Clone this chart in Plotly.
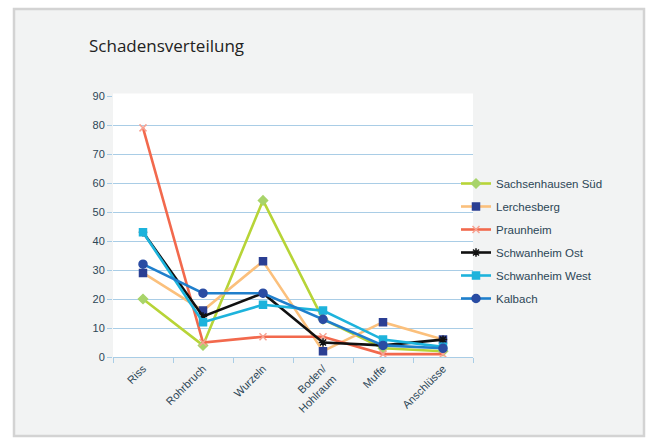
import plotly.graph_objects as go

categories = ["Riss", "Rohrbruch", "Wurzeln", "Boden/<br>Hohlraum", "Muffe", "Anschlüsse"]
sachsenhausen_sued = [20, 4, 54, 13, 3, 2]
lerchesberg = [29, 16, 33, 2, 12, 6]
praunheim = [79, 5, 7, 7, 1, 1]
schwanheim_ost = [43, 14, 22, 5, 4, 6]
schwanheim_west = [43, 12, 18, 16, 6, 3.5]
kalbach = [32, 22, 22, 13, 4, 3]
y_ticks = [0, 10, 20, 30, 40, 50, 60, 70, 80, 90]

series = [
    ("Sachsenhausen Süd", sachsenhausen_sued, "#b7d437", "#a8d46a", "diamond", 7),
    ("Lerchesberg", lerchesberg, "#fbc07c", "#2b3f93", "square", 7),
    ("Praunheim", praunheim, "#f2694d", "#f7a292", "x-thin", 7),
    ("Schwanheim Ost", schwanheim_ost, "#111111", "#111111", "asterisk", 7),
    ("Schwanheim West", schwanheim_west, "#1db3dc", "#1db3dc", "square", 7),
    ("Kalbach", kalbach, "#1f7fcc", "#2a4ca3", "circle", 8),
]

fig = go.Figure()
for i, (name, vals, lc, mc, sym, ms) in enumerate(series):
    fig.add_trace(go.Scatter(
        x=categories, y=vals, name=name, mode="lines+markers",
        line=dict(color=lc, width=2.6),
        marker=dict(color=mc, symbol=sym, size=ms,
                    line=dict(color=mc, width=1.5)),
        legendgroup=f"g{i}",
    ))

L, R, T, B = 113, 473, 96, 357
W, H = 651, 438

def px(x):
    return (x - L) / (R - L)

def py(y):
    return (B - y) / (B - T)

fig.update_layout(
    width=W, height=H,
    margin=dict(l=L, r=W - R, t=T, b=H - B),
    paper_bgcolor="white",
    plot_bgcolor="white",
    font=dict(family="Liberation Sans, Arial, sans-serif", size=11, color="#2c4656"),
    showlegend=True,
    legend=dict(x=px(456), y=py(169), xanchor="left", yanchor="top",
                bgcolor="rgba(0,0,0,0)", font=dict(size=11.5, color="#2c4656"),
                tracegroupgap=4, itemwidth=30),
    shapes=[
        dict(type="rect", xref="paper", yref="paper", layer="below",
             x0=px(14), x1=px(644), y0=py(436), y1=py(9),
             fillcolor="#f2f3f3", line=dict(color="#d3d3d3", width=2.5)),
        dict(type="rect", xref="paper", yref="paper", layer="below",
             x0=0, x1=1, y0=0, y1=1.01,
             fillcolor="white", line=dict(width=0)),
    ],
    annotations=[
        dict(text="Schadensverteilung", xref="paper", yref="paper",
             x=px(87), y=py(46), xanchor="left", yanchor="middle",
             showarrow=False,
             font=dict(family="Open Sans, sans-serif", size=17, color="#222222")),
    ],
)

fig.update_xaxes(
    type="category", tickangle=-45, showgrid=False,
    showline=True, linecolor="#a9cde6", linewidth=1,
    ticks="outside", tickson="boundaries", ticklen=5, tickcolor="#a9cde6",
    tickfont=dict(size=11, color="#2c4656"),
    range=[-0.5, 5.5],
)
fig.update_yaxes(
    range=[0, 90], tickvals=y_ticks, showgrid=True, gridcolor="#a9cde6",
    gridwidth=1, zeroline=False, showline=False,
    ticks="outside", ticklen=5, tickcolor="#a9cde6",
    tickfont=dict(size=11, color="#2c4656"),
)

fig.write_html("out.html")
